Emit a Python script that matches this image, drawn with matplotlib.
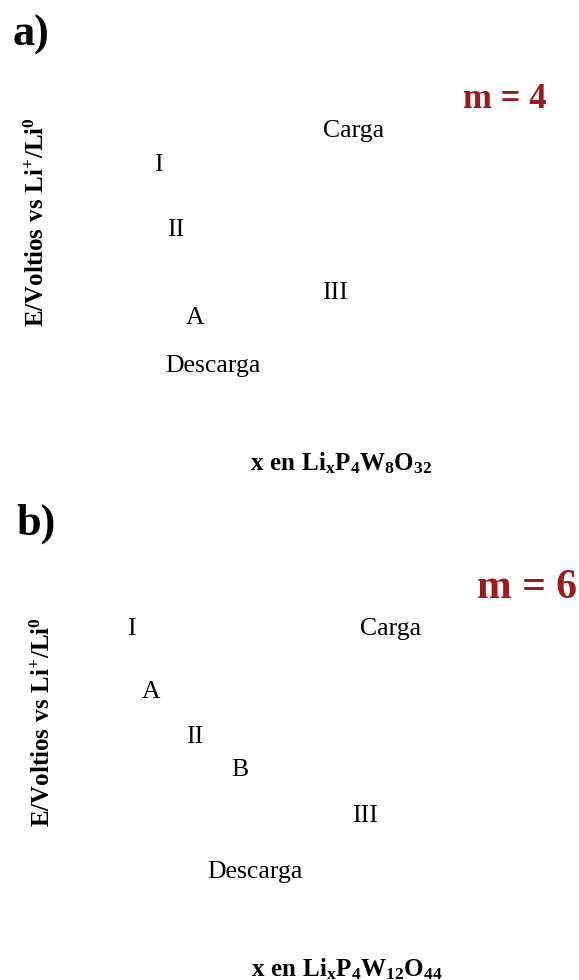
import matplotlib
matplotlib.use("Agg")
import matplotlib.pyplot as plt

plt.rcParams['font.family'] = ['Liberation Serif', 'DejaVu Serif']
plt.rcParams['mathtext.fontset'] = 'custom'
plt.rcParams['mathtext.rm'] = 'Liberation Serif:bold'
plt.rcParams['mathtext.bf'] = 'Liberation Serif:bold'
plt.rcParams['mathtext.it'] = 'Liberation Serif:bold'

# panel texts
panel_tags = ['a)', 'b)']
m_labels = ['m = 4', 'm = 6']
y_label = r'$\mathrm{E/Voltios\ vs\ Li^{+}/Li^{0}}$'
x_labels = [r'$\mathrm{x\ en\ Li_{x}P_{4}W_{8}O_{32}}$',
            r'$\mathrm{x\ en\ Li_{x}P_{4}W_{12}O_{44}}$']

# curve annotations per panel
notes_a = ['Carga', 'I', 'II', 'III', 'A', 'Descarga']
notes_b = ['I', 'Carga', 'A', 'II', 'B', 'III', 'Descarga']

# where they sit (pixels inside each panel, y down)
notes_a_xy = [(354, 131), (158, 165), (176, 230), (335, 293), (195, 318), (213, 366)]
notes_b_xy = [(131, 139), (391, 139), (151, 202), (195, 247), (240, 280), (365, 326), (255, 382)]
tag_xy = [(31, 35), (36, 34)]
m_xy = [(505, 100), (527, 98)]
m_size = [25, 30]
ylab_xy = [(37, 222), (43, 232)]
xlab_xy = [(341, 463), (347, 479)]

RED = '#9b1b1f'

fig = plt.figure(figsize=(5.79, 9.80), dpi=100)
axes = [fig.add_axes([0, 0.5, 1, 0.5]), fig.add_axes([0, 0, 1, 0.5])]

for i, ax in enumerate(axes):
    ax.set_xlim(0, 579)
    ax.set_ylim(490, 0)
    ax.axis('off')

    ax.text(*tag_xy[i], panel_tags[i], fontsize=32, fontweight='bold',
            ha='center', va='center')
    ax.text(*m_xy[i], m_labels[i], fontsize=m_size[i], fontweight='bold',
            color=RED, ha='center', va='center')
    ax.text(*ylab_xy[i], y_label, fontsize=18, rotation=90,
            ha='center', va='center')
    ax.text(*xlab_xy[i], x_labels[i], fontsize=18, ha='center', va='center')

    notes, pos = (notes_a, notes_a_xy) if i == 0 else (notes_b, notes_b_xy)
    for txt, (x, y) in zip(notes, pos):
        ax.text(x, y, txt, fontsize=18.5, ha='center', va='center')

fig.savefig('out.png', dpi=100)
